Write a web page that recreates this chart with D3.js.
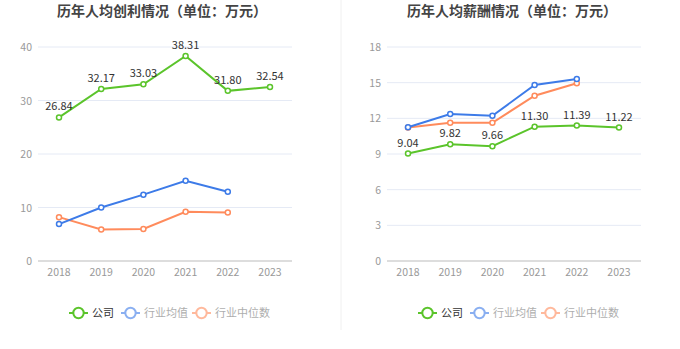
<!DOCTYPE html>
<html><head><meta charset="utf-8">
<script src="https://cdn.jsdelivr.net/npm/d3@7"></script>
<style>body{margin:0;background:#fff}svg{display:block;font-family:"Noto Sans CJK SC","Noto Sans",sans-serif}</style>
</head><body><svg id="c" width="680" height="349"></svg>
<script>
const years = ["2018","2019","2020","2021","2022","2023"];
const seriesNames = ["公司","行业均值","行业中位数"];
const profitTitle = "历年人均创利情况（单位：万元）";
const profitCompany = [26.84,32.17,33.03,38.31,31.80,32.54];
const profitAvg = [6.9,10.0,12.4,15.0,12.95,null];
const profitMedian = [8.2,5.9,6.0,9.2,9.05,null];
const profitTicks = [0,10,20,30,40];
const salaryTitle = "历年人均薪酬情况（单位：万元）";
const salaryCompany = [9.04,9.82,9.66,11.30,11.39,11.22];
const salaryAvg = [11.25,12.36,12.22,14.8,15.3,null];
const salaryMedian = [11.22,11.63,11.63,13.9,14.95,null];
const salaryTicks = [0,3,6,9,12,15,18];

const colors = ["#5BC42B","#3D7BE8","#FF8B5C"];
const svg = d3.select("#c");

svg.append("line").attr("x1",341).attr("x2",341).attr("y1",0).attr("y2",330).attr("stroke","#f0f0f0");

function chart(ox, tx, title, comp, avg, med, ticks, ymax){
  const g = svg.append("g");
  const x = d3.scalePoint().domain(years).range([ox+59, ox+270]);
  const y = d3.scaleLinear().domain([0,ymax]).range([261,47]);
  g.append("text").attr("x",tx).attr("y",16).attr("text-anchor","middle")
   .attr("font-size",14).attr("font-weight","bold").attr("fill","#444").text(title);
  ticks.forEach(t=>{
    if(t>0) g.append("line").attr("x1",ox+38).attr("x2",ox+292).attr("y1",y(t)).attr("y2",y(t)).attr("stroke","#e5eaf5").attr("stroke-width",1);
    g.append("text").attr("x",ox+32).attr("y",y(t)+4).attr("text-anchor","end").attr("font-size",10.5).attr("fill","#999").text(t);
  });
  g.append("line").attr("x1",ox+38).attr("x2",ox+292).attr("y1",261).attr("y2",261).attr("stroke","#bbb");
  years.forEach(yr=>{
    g.append("text").attr("x",x(yr)).attr("y",276).attr("text-anchor","middle").attr("font-size",10.5).attr("fill","#999").text(yr);
  });
  const line = d3.line().defined(d=>d[1]!=null).x(d=>x(d[0])).y(d=>y(d[1]));
  [med, avg, comp].forEach((s,k)=>{
    const idx = 2-k;
    const pts = years.map((yr,i)=>[yr,s[i]]);
    g.append("path").attr("d",line(pts)).attr("fill","none").attr("stroke",colors[idx]).attr("stroke-width",2);
    pts.filter(d=>d[1]!=null).forEach(d=>{
      g.append("circle").attr("cx",x(d[0])).attr("cy",y(d[1])).attr("r",2.5).attr("fill","#fff").attr("stroke",colors[idx]).attr("stroke-width",1.5);
    });
  });
  comp.forEach((v,i)=>{
    g.append("text").attr("x",x(years[i])).attr("y",y(v)-7).attr("text-anchor","middle").attr("font-size",11).attr("fill","#333").text(v.toFixed(2));
  });
  const lx = [ox+69, ox+121, ox+192];
  seriesNames.forEach((n,i)=>{
    const lg = g.append("g").attr("opacity", i==0?1:0.6);
    lg.append("line").attr("x1",lx[i]).attr("x2",lx[i]+19).attr("y1",313).attr("y2",313).attr("stroke",colors[i]).attr("stroke-width",2);
    lg.append("circle").attr("cx",lx[i]+9.5).attr("cy",313).attr("r",5.2).attr("fill","#fff").attr("stroke",colors[i]).attr("stroke-width",2);
    lg.append("text").attr("x",lx[i]+23).attr("y",317).attr("font-size",11).attr("fill",i==0?"#333":"#777").text(n);
  });
}
chart(0, 162, profitTitle, profitCompany, profitAvg, profitMedian, profitTicks, 40);
chart(349, 512, salaryTitle, salaryCompany, salaryAvg, salaryMedian, salaryTicks, 18);
</script></body></html>
